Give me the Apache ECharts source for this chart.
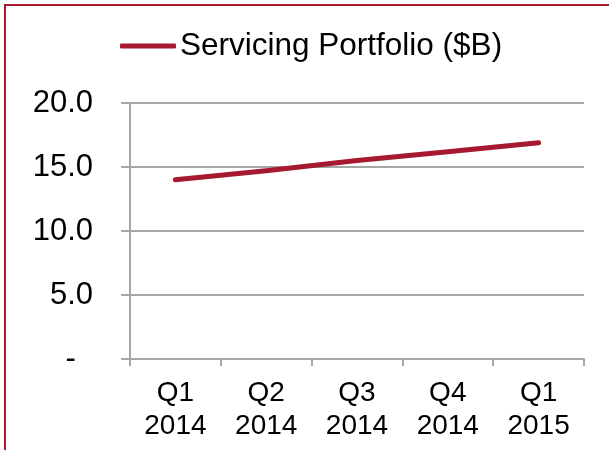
<!DOCTYPE html>
<html>
<head>
<meta charset="utf-8">
<script src="https://cdn.jsdelivr.net/npm/echarts@6/dist/echarts.min.js"></script>
<style>
  html, body { margin: 0; padding: 0; background: #fff; }
  #chart { width: 609px; height: 450px; }
</style>
</head>
<body>
<div id="chart"></div>
<script>
var quarters = ['Q1\n2014', 'Q2\n2014', 'Q3\n2014', 'Q4\n2014', 'Q1\n2015'];
var portfolio = [14.0, 14.7, 15.5, 16.2, 16.9];
var seriesName = 'Servicing Portfolio ($B)';

var red = '#A6192E';
var gray = '#A6A6A6';
var font = 'Liberation Sans, Arial, sans-serif';

var chart = echarts.init(document.getElementById('chart'));
chart.setOption({
    animation: false,
    textStyle: { fontFamily: font },
    graphic: [{
        type: 'rect',
        shape: { x: 5, y: 5, width: 700, height: 600 },
        style: { fill: 'none', stroke: red, lineWidth: 2 },
        silent: true
    }],
    legend: {
        left: 120,
        top: 30,
        padding: 0,
        itemWidth: 56,
        itemHeight: 5,
        itemGap: 5,
        icon: 'roundRect',
        textStyle: { fontSize: 31.5, color: '#000', fontFamily: font, padding: [0, 0, 0, -1] },
        data: [{ name: seriesName, itemStyle: { color: red } }]
    },
    grid: {
        left: 130,
        right: 25,
        top: 103,
        bottom: 91,
        containLabel: false
    },
    xAxis: {
        type: 'category',
        data: quarters,
        boundaryGap: true,
        axisLine: { lineStyle: { color: gray, width: 2 } },
        axisTick: { show: true, length: 7, lineStyle: { color: gray, width: 2 } },
        axisLabel: {
            color: '#000',
            fontSize: 28,
            lineHeight: 33,
            margin: 18,
            interval: 0
        }
    },
    yAxis: {
        type: 'value',
        min: 0,
        max: 20,
        interval: 5,
        axisLine: { show: true, lineStyle: { color: gray, width: 2 } },
        axisTick: { show: true, length: 9, lineStyle: { color: gray, width: 2 } },
        splitLine: { lineStyle: { color: gray, width: 2 } },
        axisLabel: {
            color: '#000',
            fontSize: 31,
            margin: 37,
            formatter: function (v) { return v === 0 ? '-  ' : v.toFixed(1); }
        }
    },
    series: [{
        name: seriesName,
        type: 'line',
        data: portfolio,
        symbol: 'none',
        lineStyle: { color: red, width: 5, cap: 'round', join: 'round' },
        itemStyle: { color: red }
    }]
});
</script>
</body>
</html>
